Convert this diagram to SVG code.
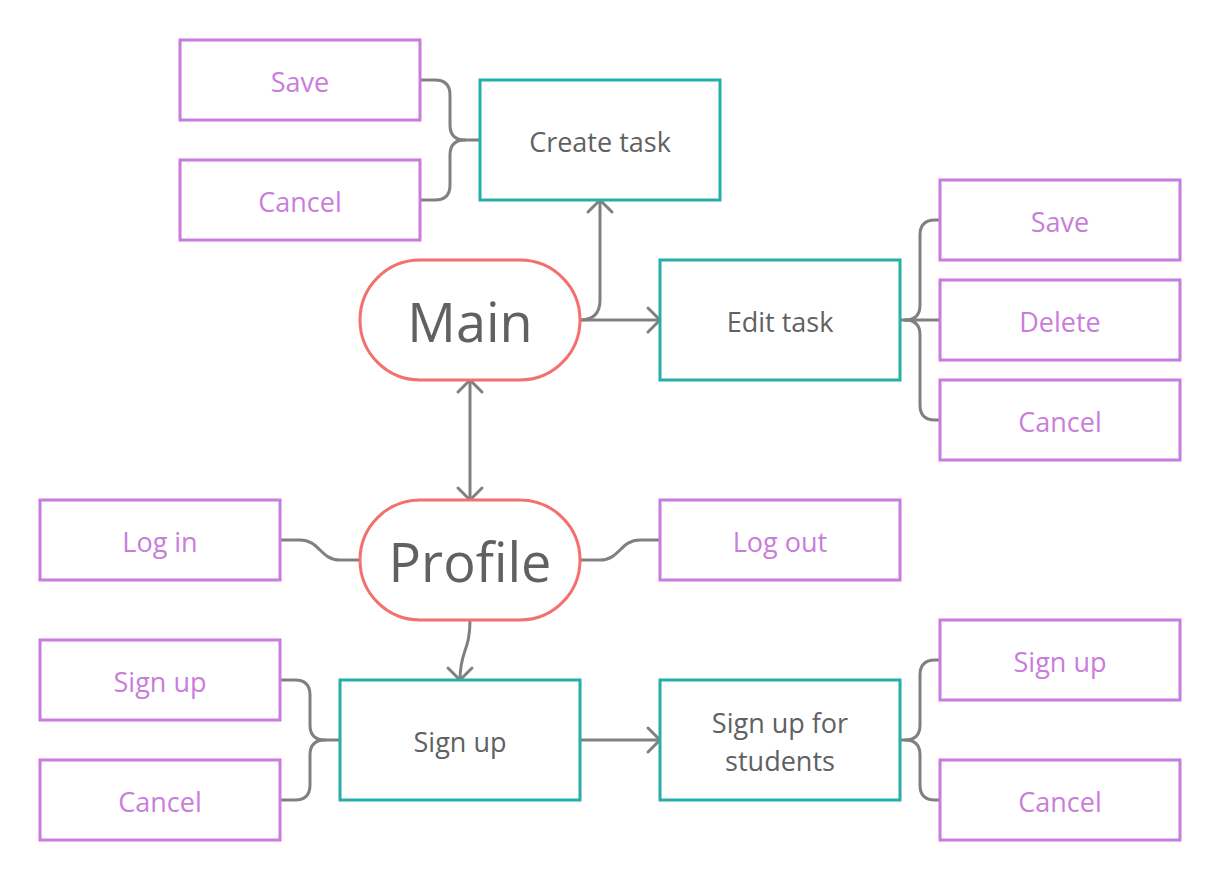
<svg xmlns="http://www.w3.org/2000/svg" width="1221" height="880" viewBox="0 0 1221 880">
<defs>
<style>
.leaf{fill:#fff;stroke:#C97DDB;stroke-width:3}
.box{fill:#fff;stroke:#26AEAA;stroke-width:3}
.pill{fill:#fff;stroke:#F2716E;stroke-width:3}
.lt{font-family:"Open Sans","Liberation Sans",sans-serif;font-size:27px;fill:#C97DDB;text-anchor:middle;dominant-baseline:central}
.bt{font-family:"Open Sans","Liberation Sans",sans-serif;font-size:27px;fill:#616161;text-anchor:middle;dominant-baseline:central}
.pt{font-family:"Open Sans","Liberation Sans",sans-serif;font-size:54px;fill:#616161;text-anchor:middle;dominant-baseline:central}
.c{fill:none;stroke:#808080;stroke-width:3;stroke-linecap:round;stroke-linejoin:round}
</style>
<marker id="arr" markerUnits="userSpaceOnUse" markerWidth="30" markerHeight="30" viewBox="-15 -15 30 30" refX="0" refY="0" orient="auto-start-reverse">
<path d="M-12,-12 L0,0 L-12,12" fill="none" stroke="#808080" stroke-width="3" stroke-linecap="round" stroke-linejoin="round"/>
</marker>
</defs>
<g id="connectors">
<path class="c" d="M420,80 H435 Q450,80 450,95 V125 Q450,140 465,140 H480"/>
<path class="c" d="M420,200 H435 Q450,200 450,185 V155 Q450,140 465,140"/>
<path class="c" d="M580,320 Q600,320 600,300 V200" marker-end="url(#arr)"/>
<path class="c" d="M580,320 H660" marker-end="url(#arr)"/>
<path class="c" d="M900,320 H905 Q920,320 920,305 V235 Q920,220 935,220 H940"/>
<path class="c" d="M905,320 H940"/>
<path class="c" d="M905,320 Q920,320 920,335 V405 Q920,420 935,420 H940"/>
<path class="c" d="M470,380 V500" marker-start="url(#arr)" marker-end="url(#arr)"/>
<path class="c" d="M280,540 H300 C320,540 320,560 340,560 H360"/>
<path class="c" d="M580,560 H600 C620,560 620,540 640,540 H660"/>
<path class="c" d="M470,620 C470,652 460,650 460,680" marker-end="url(#arr)"/>
<path class="c" d="M280,680 H295 Q310,680 310,695 V725 Q310,740 325,740 H340"/>
<path class="c" d="M280,800 H295 Q310,800 310,785 V755 Q310,740 325,740"/>
<path class="c" d="M580,740 H660" marker-end="url(#arr)"/>
<path class="c" d="M900,740 H905 Q920,740 920,725 V675 Q920,660 935,660 H940"/>
<path class="c" d="M905,740 Q920,740 920,755 V785 Q920,800 935,800 H940"/>
</g>
<g id="save1"><rect class="leaf" x="180" y="40" width="240" height="80"/><text class="lt" x="300" y="81">Save</text></g>
<g id="cancel1"><rect class="leaf" x="180" y="160" width="240" height="80"/><text class="lt" x="300" y="201">Cancel</text></g>
<g id="create"><rect class="box" x="480" y="80" width="240" height="120"/><text class="bt" x="600" y="141">Create task</text></g>
<g id="edit"><rect class="box" x="660" y="260" width="240" height="120"/><text class="bt" x="780" y="321">Edit task</text></g>
<g id="save2"><rect class="leaf" x="940" y="180" width="240" height="80"/><text class="lt" x="1060" y="221">Save</text></g>
<g id="delete"><rect class="leaf" x="940" y="280" width="240" height="80"/><text class="lt" x="1060" y="321">Delete</text></g>
<g id="cancel2"><rect class="leaf" x="940" y="380" width="240" height="80"/><text class="lt" x="1060" y="421">Cancel</text></g>
<g id="main"><rect class="pill" x="360" y="260" width="220" height="120" rx="60"/><text class="pt" x="470" y="321">Main</text></g>
<g id="profile"><rect class="pill" x="360" y="500" width="220" height="120" rx="60"/><text class="pt" x="470" y="561">Profile</text></g>
<g id="login"><rect class="leaf" x="40" y="500" width="240" height="80"/><text class="lt" x="160" y="541">Log in</text></g>
<g id="logout"><rect class="leaf" x="660" y="500" width="240" height="80"/><text class="lt" x="780" y="541">Log out</text></g>
<g id="signup1"><rect class="leaf" x="40" y="640" width="240" height="80"/><text class="lt" x="160" y="681">Sign up</text></g>
<g id="cancel3"><rect class="leaf" x="40" y="760" width="240" height="80"/><text class="lt" x="160" y="801">Cancel</text></g>
<g id="signup"><rect class="box" x="340" y="680" width="240" height="120"/><text class="bt" x="460" y="741">Sign up</text></g>
<g id="students"><rect class="box" x="660" y="680" width="240" height="120"/><text class="bt" x="780" y="722">Sign up for</text><text class="bt" x="780" y="760">students</text></g>
<g id="signup2"><rect class="leaf" x="940" y="620" width="240" height="80"/><text class="lt" x="1060" y="661">Sign up</text></g>
<g id="cancel4"><rect class="leaf" x="940" y="760" width="240" height="80"/><text class="lt" x="1060" y="801">Cancel</text></g>
</svg>
